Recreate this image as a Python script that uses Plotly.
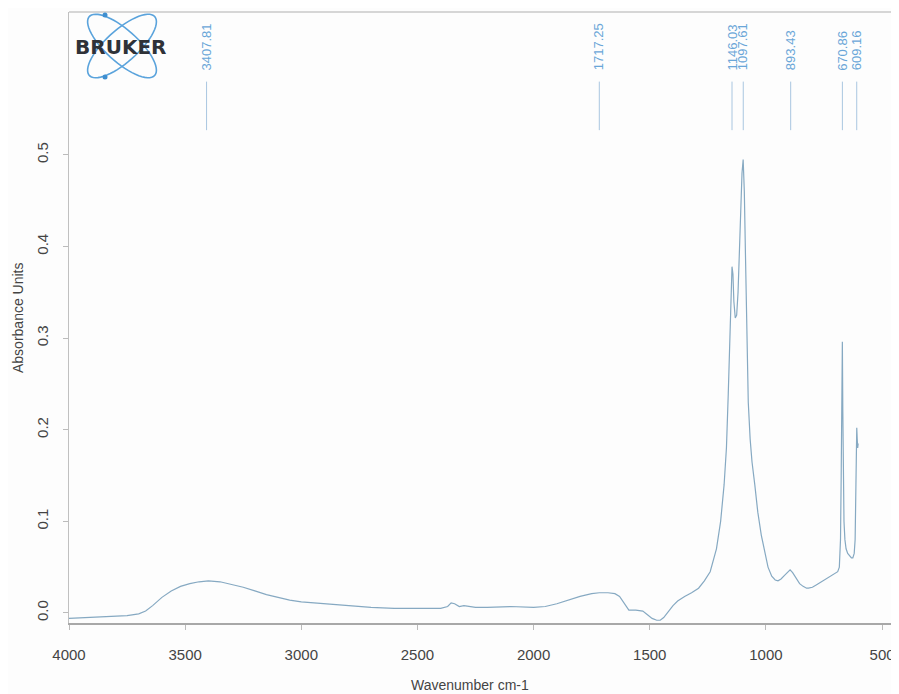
import numpy as np
import plotly.graph_objects as go

wavenumber = [4000, 3900, 3800, 3750, 3700, 3670, 3640, 3600, 3560, 3520, 3480, 3440, 3400, 3350, 3300,
              3250, 3200, 3150, 3100, 3050, 3000, 2900, 2800, 2700, 2600, 2500, 2400, 2370, 2355, 2340,
              2320, 2300, 2250, 2200, 2100, 2000, 1950, 1900, 1850, 1800, 1750, 1717, 1680, 1650, 1630,
              1610, 1590, 1560, 1530, 1510, 1490, 1470, 1455, 1440, 1420, 1400, 1380, 1350, 1320, 1290,
              1265, 1240, 1213, 1195, 1180, 1170, 1162, 1155, 1150, 1146, 1142, 1138, 1132, 1126, 1120,
              1114, 1108, 1103, 1098, 1093, 1088, 1082, 1076, 1068, 1060, 1048, 1035, 1020, 1005, 991,
              975, 960, 948, 935, 920, 905, 896, 885, 870, 855, 840, 825, 817, 800, 780, 760, 740, 720,
              700, 691, 684, 679, 676, 673, 671, 669, 667, 664, 660, 655, 648, 640, 632, 626, 620, 616,
              613, 611, 609, 607, 605, 603]
absorbance = [-0.006, -0.005, -0.004, -0.003, -0.001, 0.002, 0.008, 0.017, 0.024, 0.029, 0.032, 0.034, 0.035,
              0.034, 0.031, 0.028, 0.024, 0.020, 0.017, 0.014, 0.012, 0.010, 0.008, 0.006, 0.005, 0.005,
              0.005, 0.007, 0.011, 0.010, 0.007, 0.008, 0.006, 0.006, 0.007, 0.006, 0.007, 0.010, 0.014,
              0.018, 0.021, 0.022, 0.022, 0.021, 0.018, 0.010, 0.003, 0.003, 0.002, -0.002, -0.006, -0.008,
              -0.008, -0.005, 0.002, 0.008, 0.013, 0.018, 0.022, 0.027, 0.035, 0.045, 0.07, 0.10, 0.14,
              0.18, 0.24, 0.30, 0.35, 0.378, 0.37, 0.34, 0.322, 0.325, 0.35, 0.40, 0.45, 0.48, 0.495,
              0.46, 0.39, 0.30, 0.23, 0.19, 0.165, 0.14, 0.11, 0.085, 0.065, 0.05, 0.04, 0.036, 0.035,
              0.037, 0.041, 0.045, 0.047, 0.044, 0.038, 0.032, 0.029, 0.027, 0.027, 0.028, 0.031, 0.034,
              0.037, 0.040, 0.043, 0.045, 0.05, 0.08, 0.15, 0.24, 0.296, 0.22, 0.15, 0.10, 0.08, 0.07,
              0.065, 0.062, 0.060, 0.06, 0.065, 0.08, 0.12, 0.17, 0.202, 0.19, 0.18, 0.185]

peak_positions = [3407.81, 1717.25, 1146.03, 1097.61, 893.43, 670.86, 609.16]
peak_labels = ["3407.81", "1717.25", "1146.03", "1097.61", "893.43", "670.86", "609.16"]

x_ticks = [4000, 3500, 3000, 2500, 2000, 1500, 1000, 500]
y_ticks = [0.0, 0.1, 0.2, 0.3, 0.4, 0.5]

# the page body adds an 8px offset; size the figure so the plot lands where the reference has it
OFF = 8
W, H = 899 - OFF, 694 - OFF
ML, MR, MT, MB = 69 - OFF, 6, 12 - OFF, 71
PW, PH = W - ML - MR, H - MT - MB

def px2paper(px, py):
    # px, py in page pixels
    return (px - OFF - ML) / PW, (H - MB - (py - OFF)) / PH

fig = go.Figure()
fig.add_trace(go.Scatter(x=wavenumber, y=absorbance, mode="lines",
                         line=dict(color="#86a9c2", width=1.2), hoverinfo="x+y", showlegend=False))

shapes = []
annotations = []
for p, lab in zip(peak_positions, peak_labels):
    shapes.append(dict(type="line", xref="x", yref="y", x0=p, x1=p, y0=0.527, y1=0.580,
                       line=dict(color="#a9c6e0", width=1)))
    annotations.append(dict(x=p, y=0.590, xref="x", yref="y", text=lab, textangle=-90,
                            showarrow=False, xanchor="center", yanchor="bottom",
                            font=dict(family="Liberation Sans, Arial", size=13, color="#6aa6d8")))

# top border line
shapes.append(dict(type="line", xref="paper", yref="paper", x0=0, x1=1.01, y0=1, y1=1,
                   line=dict(color="#c8c8c8", width=1.5)))

# BRUKER logo (decoration)
def ellipse_path(cx, cy, a, b, ang):
    t = np.linspace(0, 2 * np.pi, 60)
    ca, sa = np.cos(np.radians(ang)), np.sin(np.radians(ang))
    xs = cx + a * np.cos(t) * ca - b * np.sin(t) * sa
    ys = cy + a * np.cos(t) * sa + b * np.sin(t) * ca
    pts = [px2paper(x, y) for x, y in zip(xs, ys)]
    return "M " + " L ".join(f"{x:.5f},{y:.5f}" for x, y in pts) + " Z"

for ang in (42, -42):
    shapes.append(dict(type="path", xref="paper", yref="paper", path=ellipse_path(122, 46, 44, 16, ang),
                       line=dict(color="#5aa3dc", width=1.6)))
for (dx, dy) in [(105, 15), (105, 77)]:
    x0, y0 = px2paper(dx - 2.5, dy - 2.5)
    x1, y1 = px2paper(dx + 2.5, dy + 2.5)
    shapes.append(dict(type="circle", xref="paper", yref="paper", x0=x0, x1=x1, y0=y0, y1=y1,
                       fillcolor="#3f8fd0", line=dict(color="#3f8fd0", width=0)))
bx, by = px2paper(120, 47)
annotations.append(dict(x=bx, y=by, xref="paper", yref="paper", text="<b>BRUKER</b>", showarrow=False,
                        xanchor="center", yanchor="middle",
                        font=dict(family="DejaVu Sans", size=20, color="#2f3238")))

# axis titles
tx, ty = px2paper(470, 685)
annotations.append(dict(x=tx, y=ty, xref="paper", yref="paper", text="Wavenumber cm-1", showarrow=False,
                        xanchor="center", yanchor="middle",
                        font=dict(family="Liberation Sans, Arial", size=14, color="#444444")))
tx, ty = px2paper(18, 318)
annotations.append(dict(x=tx, y=ty, xref="paper", yref="paper", text="Absorbance Units", showarrow=False,
                        xanchor="center", yanchor="middle", textangle=-90,
                        font=dict(family="Liberation Sans, Arial", size=14, color="#444444")))

fig.update_layout(
    width=W, height=H,
    margin=dict(l=ML, r=MR, t=MT, b=MB, autoexpand=False),
    paper_bgcolor="#fdfdfd", plot_bgcolor="#fdfdfd",
    shapes=shapes, annotations=annotations,
    font=dict(family="Liberation Sans, Arial", color="#444444", size=15),
    xaxis=dict(range=[4000, 453], tickvals=x_ticks, ticktext=[str(v) for v in x_ticks],
               automargin=False,
               showgrid=False, zeroline=False, showline=True, linecolor="#a8a8a8", linewidth=1.5,
               ticks="outside", ticklen=5, tickcolor="#bbbbbb", ticklabelstandoff=12,
               tickfont=dict(size=15, color="#444444")),
    yaxis=dict(range=[-0.011, 0.656], tickvals=y_ticks, ticktext=[f"{v:.1f}" for v in y_ticks],
               automargin=False,
               showgrid=False, zeroline=False, showline=True, linecolor="#c0c0c0", linewidth=1,
               ticks="outside", ticklen=5, tickcolor="#bbbbbb", tickangle=-90, ticklabelstandoff=9,
               tickfont=dict(size=15, color="#444444")),
)

fig.write_html("out.html")
